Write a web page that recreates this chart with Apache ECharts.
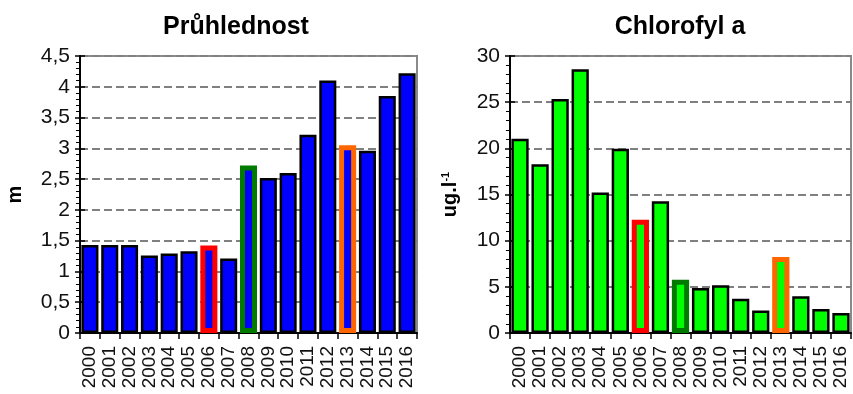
<!DOCTYPE html>
<html>
<head>
<meta charset="utf-8">
<script src="https://cdn.jsdelivr.net/npm/echarts@6/dist/echarts.min.js"></script>
<style>
html,body{margin:0;padding:0;background:#fff;}
#c{width:853px;height:394px;}
</style>
</head>
<body>
<div id="c"></div>
<script>
const years = ['2000','2001','2002','2003','2004','2005','2006','2007','2008','2009','2010','2011','2012','2013','2014','2015','2016'];
const pruhlednost = [1.43,1.43,1.43,1.26,1.29,1.33,1.42,1.21,2.72,2.52,2.60,3.22,4.10,3.05,2.96,3.85,4.22];
const chlorofyl = [21.05,18.27,25.34,28.56,15.23,19.96,12.27,14.26,5.78,4.87,5.16,3.72,2.45,8.23,3.97,2.60,2.17];
const pruhlednostTicks = {min:0, max:4.5, interval:0.5};
const chlorofylTicks = {min:0, max:30, interval:5};
const titles = ['Průhlednost','Chlorofyl a'];
const highlightBorder = {'2006':'#ff0000','2008':'#007a00','2013':'#ff6600'};

const FONT = '"Liberation Sans", Arial, sans-serif';

function barData(values, fill){
  return values.map((v,i)=>{
    const hc = highlightBorder[years[i]];
    return {value:v, itemStyle: hc ? {color:fill, borderColor:hc, borderWidth:5} : {color:fill, borderColor:'#000', borderWidth:2.5}};
  });
}

function yAxes(gridIndex, ticks, name, nameGap, labFmt){
  const main = {
    type:'value', gridIndex, min:ticks.min, max:ticks.max, interval:ticks.interval,
    name, nameLocation:'middle', nameGap, nameRotate:90,
    nameTextStyle:{fontFamily:FONT, fontSize:20, fontWeight:'bold', color:'#000',
      rich:{a:{fontFamily:FONT, fontSize:20, fontWeight:'bold', color:'#000'},
            b:{fontFamily:FONT, fontSize:11, fontWeight:'bold', color:'#000', verticalAlign:'top'}}},
    axisLine:{show:true, lineStyle:{color:'#000', width:2}},
    axisTick:{show:true, length:5, lineStyle:{color:'#000', width:1.5}},
    minorTick:{show:true, splitNumber:5, length:4, lineStyle:{color:'#000', width:1}},
    axisLabel:{fontFamily:FONT, fontSize:21, color:'#111', margin:10, formatter:labFmt},
    splitLine:{show:true, lineStyle:{color:'#808080', width:2, type:[8,4]}}
  };
  const overlay = {
    type:'value', gridIndex, min:ticks.min, max:ticks.max, interval:ticks.interval, position:'left',
    axisLine:{show:false}, axisLabel:{show:false}, splitLine:{show:false},
    axisTick:{show:true, inside:true, length:5, lineStyle:{color:'#000', width:1.5}}
  };
  return [main, overlay];
}

function xAxis(gridIndex){
  return {
    type:'category', gridIndex, data:years,
    axisLine:{show:true, lineStyle:{color:'#000', width:2}},
    axisTick:{show:true, length:6, lineStyle:{color:'#000', width:1.5}},
    axisLabel:{fontFamily:FONT, fontSize:19, color:'#111', rotate:90, margin:13, interval:0}
  };
}

const chart = echarts.init(document.getElementById('c'), null, {renderer:'canvas'});
const ya = yAxes(0, pruhlednostTicks, 'm', 55, v => String(v).replace('.', ','));
const yb = yAxes(1, chlorofylTicks, '{a|ug.l}{b|-1}', 50, v => String(v));
chart.setOption({
  animation:false,
  backgroundColor:'#fff',
  graphic:[
    {type:'text', style:{x:236, y:27, text:titles[0], fontFamily:FONT, fontSize:25, fontWeight:'bold', fill:'#000', textAlign:'center', textVerticalAlign:'middle'}},
    {type:'text', style:{x:680, y:27, text:titles[1], fontFamily:FONT, fontSize:25, fontWeight:'bold', fill:'#000', textAlign:'center', textVerticalAlign:'middle'}}
  ],
  grid:[
    {left:80, right:436, top:56, bottom:61, show:true, borderColor:'#8a8a8a', borderWidth:2, backgroundColor:'transparent'},
    {left:510, right:2, top:56, bottom:61, show:true, borderColor:'#8a8a8a', borderWidth:2, backgroundColor:'transparent'}
  ],
  xAxis:[xAxis(0), xAxis(1)],
  yAxis:[ya[0], ya[1], yb[0], yb[1]],
  series:[
    {type:'bar', xAxisIndex:0, yAxisIndex:0, barWidth:'86%', data:barData(pruhlednost, '#0000ff')},
    {type:'bar', xAxisIndex:1, yAxisIndex:2, barWidth:'86%', data:barData(chlorofyl, '#00ff00')}
  ]
});
</script>
</body>
</html>
